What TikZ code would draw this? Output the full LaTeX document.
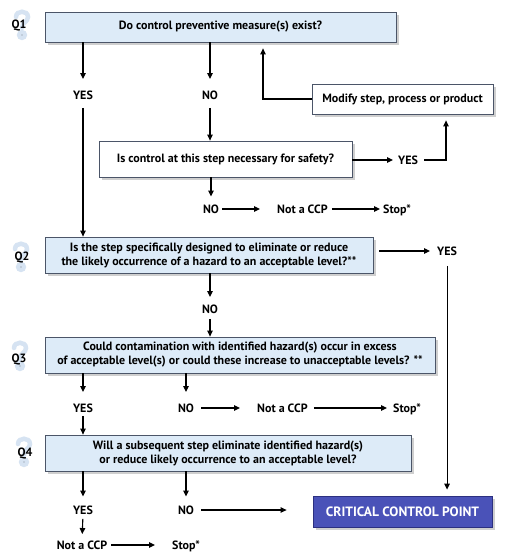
\documentclass[tikz,border=0pt]{standalone}
\usepackage{fontspec}
\setmainfont{PT Sans}
\usetikzlibrary{arrows.meta,shadows,calc}
\definecolor{qfill}{HTML}{DDEBF8}
\definecolor{bord}{HTML}{4B5568}
\definecolor{shad}{HTML}{A0A0A0}
\definecolor{ccpfill}{HTML}{4A52B8}
\definecolor{ccpbord}{HTML}{2C3080}
\definecolor{qmk}{HTML}{D6E3F2}
\begin{document}
\begin{tikzpicture}[x=1pt,y=-1pt,
  every node/.style={font=\bfseries\fontsize{12}{14}\selectfont},
  box/.style={draw=bord, line width=0.8pt, fill=white, drop shadow={shadow xshift=3pt, shadow yshift=-3pt, fill=shad}, align=center, inner sep=0pt},
  qbox/.style={box, fill=qfill},
  lbl/.style={inner sep=0pt, text height=8.5pt, text depth=0pt},
  qlab/.style={font=\bfseries\fontsize{12}{12}\selectfont},
  qmk/.style={draw=qmk, line width=4.5pt, line cap=round},
  arr/.style={-{Triangle[length=6pt,width=5.5pt]}, line width=1.1pt},
  ]
\useasboundingbox (0,0) rectangle (507,559);
\fill[white] (0,0) rectangle (507,559);

% faint question marks behind Q labels
\foreach \x/\y in {22/10, 21/242, 20/341, 24/437}{
  \draw[qmk] (\x-6,\y+7) .. controls (\x-6,\y) and (\x+6,\y) .. (\x+6,\y+7) .. controls (\x+6,\y+12) and (\x,\y+12) .. (\x,\y+18);
  \fill[qmk] (\x,\y+25) circle (2.8pt);
}
\node[qlab] (ql1) at (19,26) {Q1};
\node[qlab] (ql2) at (22,258) {Q2};
\node[qlab] (ql3) at (19,360) {Q3};
\node[qlab] (ql4) at (25,454) {Q4};

% boxes
\node[qbox, minimum width=351pt, minimum height=30pt] (q1) at (220.5,27) {Do control preventive measure(s) exist?};
\node[box, minimum width=181pt, minimum height=30pt] (mod) at (402.5,99) {Modify step, process or product};
\node[box, minimum width=253pt, minimum height=36pt] (safe) at (225.5,159) {Is control at this step necessary for safety?};
\node[qbox, minimum width=328pt, minimum height=36pt] (q2) at (209,255) {Is the step specifically designed to eliminate or reduce\\the likely occurrence of a hazard to an acceptable level?**};
\node[qbox, minimum width=390pt, minimum height=36pt] (q3) at (240,355) {Could contamination with identified hazard(s) occur in excess\\of acceptable level(s) or could these increase to unacceptable levels? **};
\node[qbox, minimum width=366pt, minimum height=36pt] (q4) at (228,453) {Will a subsequent step eliminate identified hazard(s)\\or reduce likely occurrence to an acceptable level?};
\node[box, draw=ccpbord, fill=ccpfill, text=white, font=\bfseries\fontsize{13.5}{14}\selectfont, minimum width=179pt, minimum height=31pt] (ccp) at (402.5,511.5) {CRITICAL CONTROL POINT};

% labels
\node[lbl] (yes1) at (83,95) {YES};
\node[lbl] (no1) at (210,95) {NO};
\node[lbl, anchor=west] (yes2) at (398,160) {YES};
\node[lbl] (no3) at (211,209) {NO};
\node[lbl, anchor=west] (nc1) at (277,209) {Not a CCP};
\node[lbl, anchor=west] (st1) at (383,209) {Stop*};
\node[lbl, anchor=west] (yes3) at (437,251) {YES};
\node[lbl] (no2) at (210,309) {NO};
\node[lbl] (yes4) at (83,408) {YES};
\node[lbl] (no4) at (186,408) {NO};
\node[lbl, anchor=west] (nc2) at (257,408) {Not a CCP};
\node[lbl, anchor=west] (st2) at (393,408) {Stop*};
\node[lbl] (yes5) at (83,510) {YES};
\node[lbl] (no5) at (186,510) {NO};
\node[lbl] (nc3) at (82,545) {Not a CCP};
\node[lbl, anchor=west] (st3) at (172,545) {Stop*};

% connectors
\draw[arr, shorten >=11.5pt] (q1.south -| yes1) -- (yes1.north);
\draw[arr, shorten <=8.5pt] (yes1.south) -- (q2.north -| yes1);
\draw[arr, shorten >=11.5pt] (q1.south -| no1) -- (no1.north);
\draw[arr, shorten <=8.5pt] (no1.south) -- (safe.north -| no1);
\draw[arr, shorten >=5pt] (safe.east |- yes2.west) -- (yes2.west);
\draw[arr, shorten <=6pt, shorten >=6pt] (yes2.east) -| ([xshift=43.5pt]mod.south);
\draw[arr, shorten >=6pt] (mod.west) -| ([xshift=42.5pt]q1.south);
\draw[arr, shorten >=8pt] (safe.south -| no3) -- (no3.north);
\draw[arr, shorten <=3pt, shorten >=17pt] (no3.east) -- (nc1.west);
\draw[arr, shorten <=4pt, shorten >=3pt] (nc1.east) -- (st1.west);
\draw[arr, shorten <=6pt, shorten >=7pt] (q2.east |- yes3.west) -- (yes3.west);
\draw[arr, shorten <=10.5pt, shorten >=6pt] (yes3.south) -- (ccp.north -| yes3);
\draw[arr, shorten >=7.5pt] (q2.south -| no2) -- (no2.north);
\draw[arr, shorten <=5.5pt] (no2.south) -- (q3.north -| no2);
\draw[arr, shorten >=11.5pt] (q3.south -| yes4) -- (yes4.north);
\draw[arr, shorten >=11.5pt] (q3.south -| no4) -- (no4.north);
\draw[arr, shorten <=7pt, shorten >=17pt] (no4.east) -- (nc2.west);
\draw[arr, shorten <=6pt, shorten >=6pt] (nc2.east) -- (st2.west);
\draw[arr, shorten <=3.5pt] (yes4.south) -- (q4.north -| yes4);
\draw[arr, shorten >=9pt] (q4.south -| yes5) -- (yes5.north);
\draw[arr, shorten >=9pt] (q4.south -| no5) -- (no5.north);
\draw[arr, shorten <=7pt, shorten >=26pt] (no5.east) -- (ccp.west |- no5);
\draw[arr, shorten <=4.5pt, shorten >=6.5pt] (yes5.south) -- (nc3.north);
\draw[arr, shorten <=4pt, shorten >=17pt] (nc3.east) -- (st3.west);
\end{tikzpicture}
\end{document}
